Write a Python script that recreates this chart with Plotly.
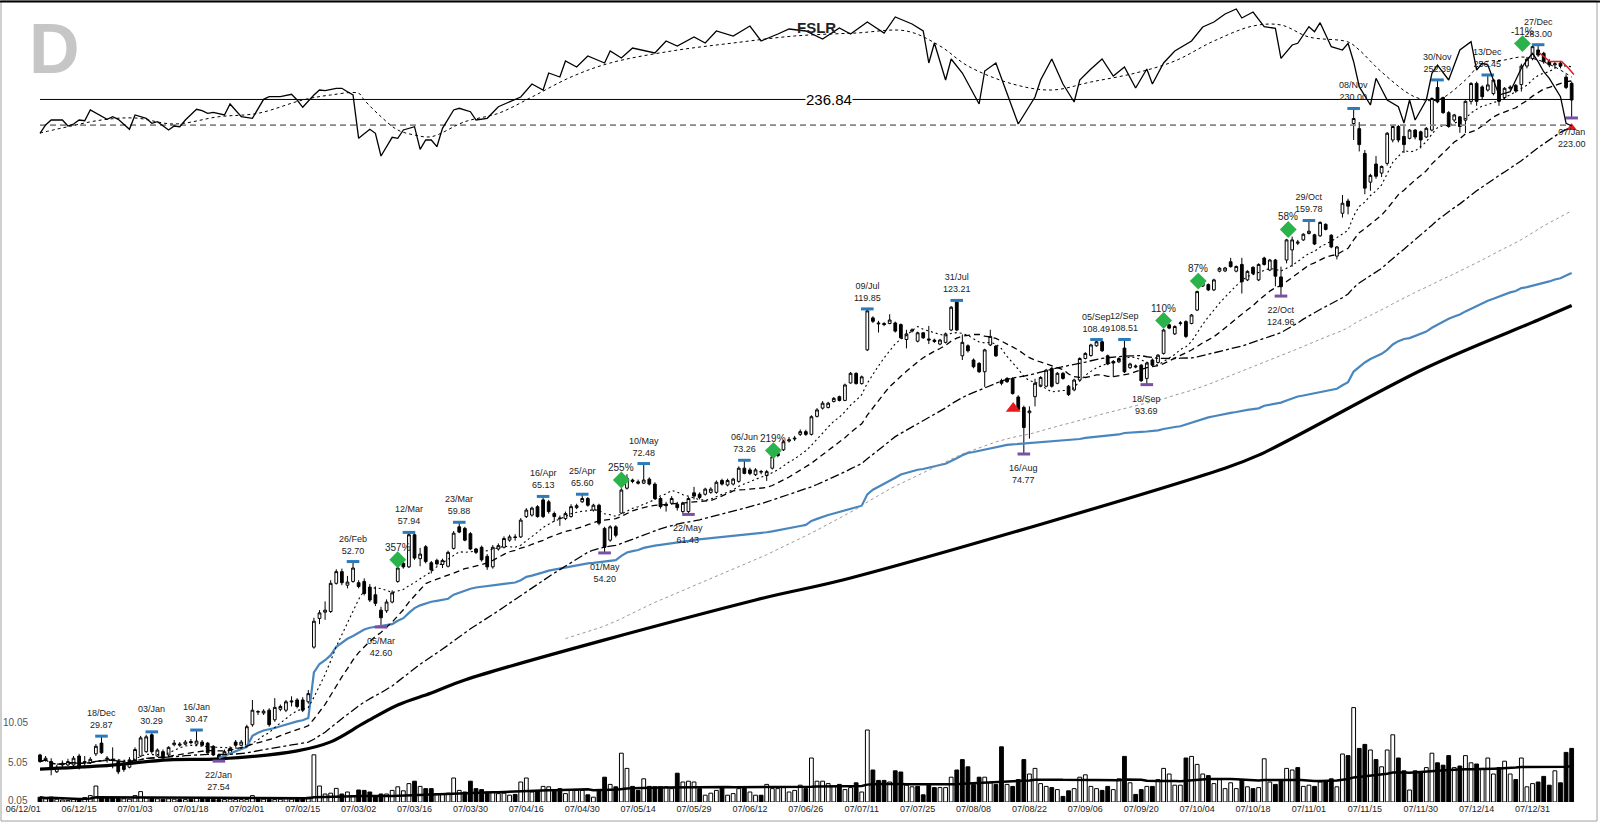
import numpy as np
import pandas as pd
import plotly.graph_objects as go

SYMBOL = "FSLR"

tick_labels = ["06/12/01", "06/12/15", "07/01/03", "07/01/18", "07/02/01", "07/02/15", "07/03/02",
               "07/03/16", "07/03/30", "07/04/16", "07/04/30", "07/05/14", "07/05/29", "07/06/12",
               "07/06/26", "07/07/11", "07/07/25", "07/08/08", "07/08/22", "07/09/06", "07/09/20",
               "07/10/04", "07/10/18", "07/11/01", "07/11/15", "07/11/30", "07/12/14", "07/12/31"]

opens = [28.1, 27.6, 27.5, 26.6, 27.2, 27.2, 27.2, 28.0, 27.5, 27.4,
         28.2, 29.2, 27.7, 27.7, 27.5, 27.3, 27.0, 27.65, 28.0, 28.4,
         30.0, 28.0, 28.4, 28.1, 29.05, 29.0, 29.1, 29.35, 29.1, 29.3,
         29.2, 28.9, 28.1, 27.8, 28.2, 29.3, 29.0, 29.0, 31.0, 32.3,
         32.2, 32.5, 31.5, 32.6, 32.5, 33.5, 33.6, 33.6, 33.4, 39.9,
         43.8, 44.7, 44.8, 49.1, 51.0, 48.8, 49.4, 49.2, 49.4, 48.5,
         47.3, 45.0, 44.9, 46.2, 49.4, 52.4, 51.8, 57.5, 53.2, 55.3,
         52.5, 52.9, 52.2, 51.9, 55.0, 59.0, 58.7, 57.7, 54.9, 55.2,
         53.6, 51.8, 54.9, 55.2, 56.5, 57.1, 57.1, 61.0, 61.3, 63.0,
         64.4, 64.0, 61.6, 60.6, 60.6, 61.0, 62.8, 64.0, 64.7, 62.3,
         63.3, 58.7, 56.5, 59.0, 61.7, 66.9, 68.7, 68.3, 68.0, 68.9,
         67.8, 64.7, 63.5, 63.7, 63.5, 62.0, 62.0, 65.9, 65.6, 65.6,
         66.0, 66.0, 68.6, 67.6, 67.8, 68.4, 71.4, 71.0, 69.9, 70.5,
         69.7, 71.4, 74.9, 75.8, 78.0, 78.5, 79.7, 80.4, 79.7, 84.5,
         86.8, 87.0, 88.7, 90.1, 89.0, 94.2, 97.2, 94.0, 104.9, 116.4,
         114.5, 114.3, 114.3, 114.5, 113.9, 108.5, 111.5, 107.9, 110.9, 108.7,
         108.3, 106.9, 107.5, 111.9, 122.7, 102.9, 106.3, 101.5, 100.4, 97.7,
         106.6, 106.2, 94.9, 95.6, 95.6, 90.0, 87.0, 85.5, 90.1, 93.2,
         93.2, 98.8, 94.1, 97.2, 93.2, 92.1, 95.1, 102.0, 103.0, 106.3,
         107.7, 102.9, 101.0, 100.9, 105.5, 99.0, 99.2, 99.8, 95.6, 101.5,
         100.7, 103.7, 113.8, 110.5, 114.3, 115.0, 114.3, 119.4, 129.1, 129.7,
         127.5, 135.5, 135.6, 139.7, 135.5, 138.5, 131.7, 137.2, 131.7, 141.4,
         136.0, 140.5, 133.0, 140.5, 145.2, 148.4, 150.0, 153.2, 152.5, 152.0,
         157.8, 152.3, 142.3, 163.6, 170.2, 219.0, 215.4, 198.7, 181.0, 192.0,
         186.4, 192.4, 207.6, 216.9, 210.0, 208.7, 214.4, 213.2, 209.6, 214.4,
         246.2, 238.3, 226.9, 221.5, 223.8, 221.4, 235.4, 249.5, 246.7, 244.2,
         241.4, 252.3, 238.3, 245.6, 247.9, 248.6, 264.0, 270.5, 278.2, 275.2,
         268.0, 265.0, 266.5, 254.7, 249.6]

highs = [28.2, 28.0, 27.8, 27.2, 27.6, 27.75, 28.0, 28.2, 28.0, 27.9,
         29.1, 29.87, 28.0, 28.8, 27.7, 27.5, 27.9, 28.8, 29.9, 30.0,
         30.29, 28.7, 28.6, 28.9, 29.5, 29.3, 29.5, 29.6, 30.47, 29.5,
         29.3, 29.0, 28.2, 28.6, 28.9, 29.5, 29.5, 31.0, 33.6, 32.5,
         32.6, 32.7, 33.8, 33.1, 33.6, 34.0, 33.8, 33.9, 34.7, 43.9,
         45.0, 46.3, 49.6, 51.4, 51.5, 50.3, 52.7, 49.6, 49.9, 49.0,
         48.6, 45.5, 46.6, 48.0, 51.9, 52.7, 57.94, 57.8, 55.1, 55.6,
         52.8, 53.2, 53.2, 54.6, 58.2, 59.88, 59.0, 58.0, 55.1, 55.5,
         54.0, 55.6, 55.9, 57.2, 57.5, 57.6, 60.7, 62.7, 63.0, 63.3,
         65.13, 64.4, 62.0, 61.2, 62.0, 63.5, 63.6, 65.6, 65.0, 63.6,
         63.6, 59.0, 59.3, 59.3, 66.9, 70.0, 69.0, 68.8, 72.48, 69.3,
         68.2, 65.0, 64.0, 65.2, 64.0, 64.0, 65.0, 67.2, 66.0, 67.0,
         67.1, 68.6, 69.0, 69.0, 69.2, 71.8, 73.26, 71.5, 71.4, 71.0,
         71.0, 74.5, 75.3, 78.3, 79.0, 79.3, 81.0, 80.9, 84.8, 86.8,
         88.8, 88.6, 90.0, 90.4, 94.0, 97.6, 97.5, 96.5, 119.85, 117.0,
         115.3, 114.8, 117.8, 115.0, 114.3, 112.0, 112.5, 111.3, 111.2, 113.4,
         108.8, 108.7, 111.0, 121.0, 123.21, 110.3, 106.8, 102.0, 100.8, 105.3,
         112.0, 106.6, 95.5, 96.0, 96.0, 90.5, 87.5, 87.3, 95.5, 96.3,
         98.6, 99.2, 97.6, 97.6, 93.6, 95.5, 102.4, 104.1, 107.0, 108.49,
         108.1, 103.3, 101.5, 102.4, 108.51, 100.6, 100.0, 100.2, 100.9, 102.0,
         103.5, 112.3, 114.3, 113.6, 115.2, 115.5, 117.9, 127.2, 131.5, 130.2,
         132.2, 137.3, 137.4, 141.5, 138.0, 141.5, 135.9, 137.7, 139.0, 142.0,
         141.0, 141.0, 137.5, 150.5, 151.6, 150.0, 153.3, 159.78, 153.0, 159.3,
         158.3, 152.8, 147.1, 173.6, 171.5, 230.0, 220.0, 200.9, 186.0, 197.0,
         191.0, 213.0, 218.0, 218.0, 218.0, 215.0, 215.0, 214.0, 216.5, 238.5,
         252.39, 239.0, 228.0, 226.0, 224.5, 236.2, 250.5, 251.0, 248.0, 256.45,
         253.0, 253.0, 246.5, 248.0, 249.0, 266.0, 272.0, 282.0, 283.0, 276.5,
         270.0, 268.0, 268.5, 257.0, 251.0]

lows = [27.4, 27.5, 26.3, 26.5, 27.0, 27.1, 27.1, 26.8, 26.9, 27.3,
        28.0, 28.2, 27.4, 26.9, 26.4, 26.6, 26.9, 27.5, 27.9, 28.3,
        28.2, 27.9, 27.6, 28.0, 28.9, 28.85, 29.0, 29.1, 29.0, 28.9,
        28.2, 28.0, 27.54, 27.7, 28.1, 28.8, 28.9, 28.9, 30.8, 32.0,
        32.0, 30.8, 31.3, 32.4, 32.3, 32.9, 32.7, 32.3, 33.2, 39.7,
        43.0, 43.6, 44.6, 48.9, 48.8, 48.3, 49.2, 48.3, 47.2, 46.2,
        45.6, 42.6, 44.6, 46.0, 49.2, 51.5, 51.6, 53.0, 51.9, 52.4,
        50.7, 52.0, 51.6, 51.7, 54.8, 57.8, 56.3, 54.7, 54.0, 52.7,
        51.3, 51.5, 54.6, 55.0, 56.2, 56.4, 56.9, 60.7, 61.0, 60.8,
        60.7, 61.6, 60.0, 59.2, 60.3, 60.8, 62.5, 63.8, 63.0, 62.0,
        59.3, 54.2, 56.2, 57.0, 61.5, 66.6, 68.0, 67.7, 67.8, 67.5,
        64.4, 62.6, 62.0, 63.4, 62.2, 61.7, 61.43, 64.5, 64.5, 65.3,
        65.7, 65.7, 67.5, 67.3, 67.5, 68.1, 70.0, 69.8, 69.6, 70.0,
        68.5, 71.1, 74.0, 75.5, 77.6, 78.0, 79.3, 79.3, 79.4, 84.2,
        86.4, 86.7, 88.4, 88.7, 88.8, 94.0, 93.7, 93.7, 104.5, 114.5,
        111.0, 113.3, 114.0, 111.0, 108.7, 105.4, 111.0, 107.5, 108.7, 106.9,
        107.3, 106.5, 107.1, 111.5, 111.5, 101.5, 104.0, 98.8, 97.3, 93.0,
        106.2, 102.5, 93.5, 94.2, 90.7, 86.2, 74.77, 78.6, 87.3, 92.9,
        92.9, 92.8, 93.8, 95.2, 90.3, 91.7, 94.8, 101.7, 102.6, 106.0,
        104.2, 99.8, 96.0, 100.5, 97.3, 98.6, 98.8, 94.5, 93.69, 99.4,
        100.3, 103.3, 112.2, 110.1, 113.5, 109.0, 114.0, 119.0, 128.7, 127.0,
        127.0, 135.0, 135.1, 137.1, 135.0, 126.0, 131.2, 134.0, 131.2, 138.0,
        135.5, 129.0, 124.96, 139.0, 137.5, 147.5, 149.5, 152.7, 147.5, 151.5,
        154.7, 146.0, 140.8, 161.3, 163.0, 207.6, 200.0, 174.0, 176.0, 183.0,
        184.0, 191.0, 206.0, 206.0, 199.0, 208.0, 208.0, 202.0, 209.0, 213.5,
        234.0, 226.0, 216.0, 220.0, 212.5, 212.4, 233.0, 232.0, 237.0, 243.0,
        240.0, 232.0, 237.0, 244.0, 242.0, 243.0, 262.0, 269.0, 272.0, 266.0,
        263.0, 262.0, 262.0, 245.0, 223.0]

closes = [27.5, 27.8, 26.8, 27.0, 27.35, 27.5, 27.8, 27.0, 27.4, 27.7,
          28.9, 28.3, 27.8, 27.6, 26.6, 26.8, 27.65, 28.6, 29.7, 29.8,
          28.4, 28.55, 27.8, 28.8, 29.2, 29.1, 29.3, 29.25, 29.4, 29.0,
          28.3, 28.1, 27.7, 28.4, 28.7, 29.0, 29.3, 30.8, 32.5, 32.35,
          32.4, 31.0, 32.8, 32.9, 33.4, 33.4, 32.9, 32.5, 34.3, 43.4,
          44.6, 45.0, 49.1, 51.0, 49.2, 49.3, 51.6, 48.6, 47.5, 46.5,
          46.0, 43.9, 46.2, 47.6, 51.6, 51.8, 57.5, 53.3, 54.0, 52.7,
          51.3, 52.3, 52.9, 54.3, 57.8, 58.0, 56.5, 54.9, 54.3, 53.0,
          51.8, 55.2, 55.5, 56.8, 57.1, 57.0, 60.3, 62.3, 62.7, 61.0,
          61.0, 62.0, 61.0, 60.7, 61.6, 63.0, 63.2, 64.7, 63.3, 63.3,
          59.7, 55.2, 59.0, 57.4, 66.5, 69.1, 68.4, 68.0, 68.7, 67.8,
          64.7, 63.0, 63.2, 64.7, 62.8, 63.7, 64.7, 65.2, 64.9, 66.7,
          66.7, 68.2, 67.8, 68.6, 68.9, 71.4, 70.2, 70.2, 71.0, 70.6,
          70.6, 74.1, 74.4, 77.8, 78.3, 78.7, 80.4, 79.7, 84.4, 86.3,
          88.2, 88.2, 89.6, 89.0, 93.6, 97.2, 94.0, 96.1, 119.1, 115.1,
          114.2, 113.9, 115.6, 111.5, 109.1, 110.5, 111.9, 110.9, 109.1, 108.3,
          107.8, 108.3, 110.5, 120.5, 111.9, 107.5, 104.6, 99.3, 97.7, 104.9,
          109.6, 102.9, 94.1, 94.6, 91.0, 86.4, 81.5, 86.0, 94.1, 95.9,
          98.2, 93.2, 97.2, 95.6, 90.7, 95.1, 102.0, 103.7, 106.6, 107.7,
          104.6, 100.2, 100.5, 102.0, 97.7, 100.2, 99.5, 94.9, 100.5, 99.8,
          103.1, 111.9, 112.6, 113.2, 114.5, 109.6, 117.5, 126.8, 131.0, 127.5,
          131.7, 136.8, 136.9, 137.5, 137.6, 130.9, 135.4, 134.5, 138.5, 138.5,
          140.5, 133.3, 128.8, 150.0, 150.0, 148.9, 152.8, 154.3, 148.0, 158.8,
          155.2, 146.6, 146.6, 169.0, 167.4, 222.6, 204.5, 177.5, 185.0, 184.5,
          190.5, 212.2, 216.9, 207.6, 204.5, 214.4, 209.6, 207.6, 215.6, 237.6,
          235.0, 226.9, 216.9, 225.2, 216.9, 235.4, 249.5, 235.4, 239.0, 248.3,
          252.3, 235.4, 245.6, 246.5, 243.5, 264.0, 270.0, 281.2, 273.6, 267.7,
          265.0, 266.0, 264.0, 246.3, 236.4]

volume_m = [0.6, 0.4, 0.6, 0.35, 0.25, 0.2, 0.3, 0.4, 0.55, 0.8,
            2.0, 0.6, 0.55, 0.5, 0.45, 0.4, 0.35, 0.8, 1.3, 0.5,
            0.55, 0.4, 0.35, 0.4, 0.35, 0.3, 0.3, 0.35, 0.5, 0.4,
            0.45, 0.35, 0.3, 0.3, 0.35, 0.3, 0.3, 0.3, 0.8, 0.4,
            0.35, 0.3, 0.3, 0.35, 0.4, 0.35, 0.4, 0.45, 0.6, 5.9,
            2.0, 1.0, 1.1, 1.7, 1.0, 1.25, 0.8, 1.5, 1.45, 1.25,
            0.8, 1.0, 1.0, 1.45, 1.9, 1.4, 2.3, 2.6, 1.95, 1.67,
            1.67, 1.05, 1.05, 1.1, 3.0, 1.45, 1.25, 2.6, 1.67, 1.55,
            1.25, 1.25, 1.05, 1.1, 0.85, 0.95, 2.5, 3.0, 1.25, 1.45,
            1.95, 1.9, 1.45, 1.67, 1.05, 1.45, 1.45, 1.45, 0.9, 0.6,
            1.45, 3.1, 2.2, 1.9, 6.1, 4.2, 1.95, 1.45, 2.9, 1.95,
            1.9, 1.9, 1.9, 1.67, 3.6, 2.5, 2.6, 2.5, 1.67, 0.85,
            1.1, 1.45, 1.8, 0.85, 1.05, 1.67, 1.9, 1.25, 0.85, 0.85,
            2.2, 1.67, 1.67, 1.8, 1.25, 1.45, 2.1, 1.67, 5.5, 2.6,
            2.6, 2.3, 1.95, 2.2, 1.55, 1.8, 2.4, 1.25, 9.0, 4.0,
            2.7, 2.7, 2.5, 3.9, 3.75, 2.1, 1.9, 1.95, 0.9, 2.1,
            1.8, 1.8, 1.8, 3.1, 4.0, 5.3, 4.4, 2.2, 3.1, 3.1,
            2.4, 2.2, 6.9, 2.2, 1.95, 2.8, 5.3, 3.5, 4.2, 2.3,
            1.95, 1.8, 1.55, 0.7, 1.4, 1.67, 3.1, 3.4, 1.95, 1.67,
            1.45, 1.95, 1.55, 2.9, 5.7, 2.4, 0.95, 1.55, 1.95, 1.95,
            2.8, 4.2, 3.5, 2.1, 2.1, 5.5, 5.7, 4.7, 3.5, 3.3,
            2.3, 2.8, 1.67, 2.4, 1.67, 2.8, 1.9, 1.67, 1.8, 5.4,
            2.5, 2.2, 2.8, 4.2, 4.0, 4.3, 1.95, 2.1, 1.95, 2.5,
            2.5, 2.9, 1.9, 6.0, 5.8, 11.8, 6.7, 7.2, 6.5, 5.3,
            4.4, 6.5, 8.4, 5.5, 3.9, 1.5, 3.9, 3.75, 4.3, 6.1,
            4.9, 4.6, 5.8, 4.3, 4.5, 5.8, 4.9, 4.75, 4.2, 5.5,
            3.5, 4.3, 5.1, 3.5, 2.8, 5.5, 1.9, 2.3, 2.5, 3.2,
            2.1, 3.9, 2.4, 6.2, 6.7]

vol_ticks = [0, 5, 10]
vol_tick_text = ["0.05", "5.05", "10.05"]

# long-term (200-day) average line
lt_day = [0, 11, 23, 32, 46, 52, 58, 64, 70, 76, 128, 145, 211, 218, 248, 268, 274]
lt_price = [26.84, 27.11, 27.65, 27.74, 28.47, 29.32, 31.18, 33.06, 34.37, 35.86, 46.51, 49.95,
            70.98, 74.5, 99.0, 115.6, 121.2]

# Relative strength line (day index, value) and its moving average
rs_day = [0, 1, 2, 4, 5, 6, 7, 8, 9, 11, 12, 13, 14, 16, 17, 19, 20, 21, 23, 24, 25, 26, 28, 29, 30, 31,
          33, 34, 36, 38, 39, 40, 41, 43, 45, 46, 47, 49, 50, 51, 53, 54, 55, 56, 57, 59, 60, 61, 63,
          64, 65, 67, 68, 69, 70, 71, 72, 74, 75, 77, 78, 80, 82, 86, 88, 90, 91, 93, 94, 96, 98, 101,
          102, 104, 106, 110, 112, 114, 117, 119, 121, 124, 127, 129, 132, 134, 137, 140, 143, 145,
          148, 151, 153, 156, 158, 159, 160, 162, 163, 165, 168, 169, 171, 173, 175, 178, 179, 181,
          183, 185, 186, 188, 190, 192, 194, 196, 198, 199, 201, 203, 206, 208, 210, 212, 214, 215,
          217, 219, 221, 222, 224, 225, 227, 228, 229, 231, 233, 234, 235, 236, 238, 239, 240, 241,
          243, 244, 245, 246, 248, 249, 250, 252, 254, 256, 257, 258, 259, 260, 261, 263, 264, 265,
          266, 267, 268, 269, 270, 272, 273, 274]
rs_val = [1.367, 1.45, 1.50, 1.50, 1.44, 1.46, 1.50, 1.493, 1.60, 1.533, 1.507, 1.533, 1.507, 1.407,
          1.55, 1.517, 1.467, 1.483, 1.40, 1.44, 1.433, 1.50, 1.607, 1.593, 1.567, 1.577, 1.55, 1.66,
          1.533, 1.517, 1.617, 1.707, 1.733, 1.733, 1.757, 1.70, 1.627, 1.75, 1.80, 1.793, 1.817,
          1.817, 1.783, 1.75, 1.317, 1.407, 1.367, 1.14, 1.327, 1.317, 1.40, 1.433, 1.207, 1.30,
          1.30, 1.233, 1.417, 1.60, 1.617, 1.583, 1.50, 1.517, 1.633, 1.73, 1.86, 1.80, 1.97, 1.93,
          2.09, 2.03, 2.14, 2.07, 2.19, 2.12, 2.22, 2.17, 2.29, 2.24, 2.33, 2.27, 2.39, 2.34, 2.44,
          2.29, 2.36, 2.41, 2.39, 2.31, 2.42, 2.36, 2.48, 2.37, 2.53, 2.46, 2.39, 2.07, 2.27, 1.90,
          2.11, 1.97, 1.66, 1.99, 2.07, 1.76, 1.46, 1.73, 1.90, 2.11, 1.86, 1.68, 1.90, 2.01, 2.11,
          1.94, 2.03, 1.82, 2.01, 1.86, 2.07, 2.19, 2.29, 2.43, 2.48, 2.56, 2.61, 2.52, 2.58, 2.433,
          2.417, 2.117, 2.25, 2.267, 2.433, 2.383, 2.473, 2.233, 2.20, 2.267, 2.083, 1.833, 1.65,
          1.917, 1.80, 1.70, 1.633, 1.47, 1.70, 1.50, 1.70, 1.967, 2.05, 1.90, 2.20, 2.283, 2.00,
          2.067, 2.05, 1.90, 1.75, 1.783, 1.90, 2.017, 2.10, 2.167, 2.083, 1.983, 1.917, 1.733,
          1.467, 1.44]
rs_ma_day = [0, 5, 11, 17, 24, 32, 39, 47, 52, 57, 58, 61, 64, 67, 70, 76, 82, 88, 95, 102, 113, 124,
             135, 146, 155, 161, 166, 174, 181, 188, 196, 203, 210, 217, 222, 227, 234, 236, 240, 246,
             250, 255, 258, 262, 265, 268, 271, 274]
rs_ma_val = [1.37, 1.433, 1.50, 1.52, 1.46, 1.533, 1.567, 1.70, 1.75, 1.767, 1.70, 1.533, 1.40, 1.35,
             1.333, 1.483, 1.567, 1.73, 1.93, 2.07, 2.19, 2.27, 2.34, 2.37, 2.39, 2.24, 2.04, 1.86,
             1.80, 1.88, 1.97, 2.09, 2.29, 2.44, 2.45, 2.33, 2.28, 2.20, 1.98, 1.73, 1.70, 1.90, 2.07,
             2.10, 2.13, 2.10, 2.03, 1.93]

pivot_price = 236.84
stop_pct = 0.08

hi_day = [11, 20, 28, 56, 66, 75, 90, 97, 108, 126, 148, 164, 189, 194, 227, 235, 250, 259, 268]
hi_date = ["18/Dec", "03/Jan", "16/Jan", "26/Feb", "12/Mar", "23/Mar", "16/Apr", "25/Apr", "10/May",
           "06/Jun", "09/Jul", "31/Jul", "05/Sep", "12/Sep", "29/Oct", "08/Nov", "30/Nov", "13/Dec", "27/Dec"]
hi_price = [29.87, 30.29, 30.47, 52.70, 57.94, 59.88, 65.13, 65.60, 72.48, 73.26, 119.85, 123.21,
            108.49, 108.51, 159.78, 230.00, 252.39, 256.45, 283.00]

lo_day = [32, 61, 101, 116, 176, 198, 222, 274]
lo_date = ["22/Jan", "05/Mar", "01/May", "22/May", "16/Aug", "18/Sep", "22/Oct", "07/Jan"]
lo_price = [27.54, 42.60, 54.20, 61.43, 74.77, 93.69, 124.96, 223.00]

sig_day = [64, 104, 131.2, 201, 207.2, 223.3, 265.2]
sig_price = [53.0, 68.7, 75.6, 115.4, 131.2, 155.2, 284.0]
sig_text = ["357%", "255%", "219%", "110%", "87%", "58%", "-11%"]

sell_day = [174.1]
sell_price = [86.7]
arrow_day = [274]
arrow_price = [216.0]

red_day = [268.2, 270.1, 272.2, 273.4, 274.4]
red_price = [275.7, 267.9, 267.9, 262.3, 256.8]

vwap_anchor = 32

N = len(closes)
x = list(range(N))
c = pd.Series(closes)
sma10 = c.rolling(10, min_periods=1).mean()
sma21 = c.rolling(21, min_periods=1).mean()
sma50 = c.rolling(50, min_periods=1).mean()
sma100 = c.rolling(100, min_periods=95).mean()
tp = (pd.Series(highs) + pd.Series(lows) + c) / 3.0
v = pd.Series(volume_m)
vw = (tp * v)[vwap_anchor:].cumsum() / v[vwap_anchor:].cumsum()
vol_ma = v.rolling(50, min_periods=1).mean()

up = [closes[i] >= (closes[i - 1] if i > 0 else opens[i]) for i in range(N)]

fig = go.Figure()

# ---- volume (base axis y)
fig.add_trace(go.Bar(x=x, y=volume_m, width=0.68,
                     marker=dict(color=["white" if u else "black" for u in up],
                                 line=dict(color="black", width=1)),
                     yaxis="y", hoverinfo="skip"))
fig.add_trace(go.Scatter(x=x, y=vol_ma, mode="lines", line=dict(color="black", width=2.5),
                         yaxis="y", hoverinfo="skip"))

# ---- price (y2, log)
fig.add_trace(go.Scatter(x=lt_day, y=lt_price, mode="lines", line_shape="spline",
                         line=dict(color="black", width=3.2), yaxis="y2"))
fig.add_trace(go.Scatter(x=list(vw.index), y=vw.values, mode="lines",
                         line=dict(color="#4a86be", width=2.2), yaxis="y2"))
fig.add_trace(go.Scatter(x=x, y=sma100, mode="lines", line=dict(color="#9a9a9a", width=1, dash="dot"),
                         yaxis="y2"))
fig.add_trace(go.Scatter(x=x, y=sma50, mode="lines", line=dict(color="black", width=1.3, dash="dashdot"),
                         yaxis="y2"))
fig.add_trace(go.Scatter(x=x, y=sma21, mode="lines", line=dict(color="black", width=1.3, dash="6px,4px"),
                         yaxis="y2"))
fig.add_trace(go.Scatter(x=x, y=sma10, mode="lines", line=dict(color="black", width=1.1, dash="2px,3px"),
                         yaxis="y2"))
fig.add_trace(go.Scatter(x=[0, N - 1], y=[pivot_price, pivot_price], mode="lines",
                         line=dict(color="black", width=1), yaxis="y2"))
stop_price = pivot_price * (1 - stop_pct)
fig.add_trace(go.Scatter(x=[0, N - 1], y=[stop_price, stop_price], mode="lines",
                         line=dict(color="#888888", width=1.6, dash="6px,4px"), yaxis="y2"))

fig.add_trace(go.Candlestick(x=x, open=opens, high=highs, low=lows, close=closes, yaxis="y2",
                             whiskerwidth=0,
                             increasing=dict(line=dict(color="black", width=1), fillcolor="white"),
                             decreasing=dict(line=dict(color="black", width=1), fillcolor="black"),
                             hoverinfo="skip"))

fig.add_trace(go.Scatter(x=red_day, y=red_price, mode="lines", line=dict(color="#d62020", width=1.5),
                         yaxis="y2"))
fig.add_trace(go.Scatter(x=hi_day, y=hi_price, mode="markers",
                         marker=dict(symbol="line-ew", size=9, line=dict(color="#2b7bbb", width=3)),
                         yaxis="y2"))
fig.add_trace(go.Scatter(x=lo_day, y=lo_price, mode="markers",
                         marker=dict(symbol="line-ew", size=9, line=dict(color="#7b4fa6", width=3)),
                         yaxis="y2"))
fig.add_trace(go.Scatter(x=sig_day, y=sig_price, mode="markers",
                         marker=dict(symbol="diamond", size=13, color="#2bb34b"), yaxis="y2"))
fig.add_trace(go.Scatter(x=sell_day, y=sell_price, mode="markers",
                         marker=dict(symbol="triangle-up", size=13, color="#e8191c"), yaxis="y2"))
fig.add_trace(go.Scatter(x=arrow_day, y=arrow_price, mode="markers",
                         marker=dict(symbol="triangle-up", size=9, color="#e8191c"), yaxis="y2"))

# ---- RS line (y3)
fig.add_trace(go.Scatter(x=rs_ma_day, y=rs_ma_val, mode="lines", line_shape="spline",
                         line=dict(color="black", width=1, dash="3px,3px"), yaxis="y3"))
fig.add_trace(go.Scatter(x=rs_day, y=rs_val, mode="lines", line=dict(color="black", width=1.3),
                         yaxis="y3"))

ann = []
lbl_font = dict(family="Arial", size=9, color="#222222")
for d, t, p in zip(hi_day, hi_date, hi_price):
    ann.append(dict(x=d, y=np.log10(p), xref="x", yref="y2", text=f"{t}<br>{p:.2f}", showarrow=False,
                    xanchor="center", yanchor="bottom", yshift=4, font=lbl_font, align="center"))
for d, t, p in zip(lo_day, lo_date, lo_price):
    ann.append(dict(x=d, y=np.log10(p), xref="x", yref="y2", text=f"{t}<br>{p:.2f}", showarrow=False,
                    xanchor="center", yanchor="top", yshift=-7, font=lbl_font, align="center"))
for d, t, p in zip(sig_day, sig_text, sig_price):
    ann.append(dict(x=d, y=np.log10(p), xref="x", yref="y2", text=t, showarrow=False,
                    xanchor="center", yanchor="bottom", yshift=5,
                    font=dict(family="Arial", size=10, color="#222222")))
ann.append(dict(x=141.2, y=np.log10(pivot_price), xref="x", yref="y2", text=f"{pivot_price:.2f}",
                showarrow=False, bgcolor="white", xanchor="center", yanchor="middle",
                font=dict(family="Arial", size=15, color="black"), borderpad=0))
for vt, tt in zip(vol_ticks, vol_tick_text):
    ann.append(dict(x=30 / 1600, y=vt, xref="paper", yref="y", text=tt, showarrow=False,
                    xanchor="right", yanchor="middle", yshift=2 if vt == 0 else 0,
                    font=dict(family="Arial", size=10, color="#555555")))
ann.append(dict(x=54 / 1600, y=(802 - 48.5) / 802, xref="paper", yref="paper", text="<b>D</b>",
                showarrow=False, xanchor="center", yanchor="middle",
                font=dict(family="Arial", size=70, color="#c6c6c6")))
ann.append(dict(x=816 / 1600, y=(802 - 27.5) / 802, xref="paper", yref="paper", text=f"<b>{SYMBOL}</b>",
                showarrow=False, xanchor="center", yanchor="middle",
                font=dict(family="Arial", size=15, color="#222222")))

shapes = [
    dict(type="rect", xref="paper", yref="paper", x0=1 / 1600, x1=1597 / 1600,
         y0=(802 - 821) / 802, y1=(802 - 1) / 802, line=dict(color="#a0a0a0", width=1)),
    dict(type="line", xref="paper", yref="paper", x0=0, x1=1, y0=(802 - 1.5) / 802, y1=(802 - 1.5) / 802,
         line=dict(color="black", width=2)),
]

tick_idx = [10 * k for k in range(len(tick_labels))]
fig.update_layout(
    width=1600, height=823, margin=dict(l=0, r=0, t=0, b=21),
    paper_bgcolor="white", plot_bgcolor="white", showlegend=False, hovermode=False,
    xaxis=dict(range=[-7.156, 279.07], tickvals=[t - 3.0 for t in tick_idx], ticktext=tick_labels,
               showgrid=False, zeroline=False, showline=False, ticks="",
               tickfont=dict(family="Arial", size=9, color="#222222"),
               rangeslider=dict(visible=False)),
    yaxis=dict(range=[0, 100.25], visible=False),
    yaxis2=dict(type="log", range=[1.38223, 2.51492], overlaying="y", visible=False),
    yaxis3=dict(range=[-5.32, 2.70], overlaying="y", visible=False),
    annotations=ann, shapes=shapes,
)

fig.write_html("out.html")
